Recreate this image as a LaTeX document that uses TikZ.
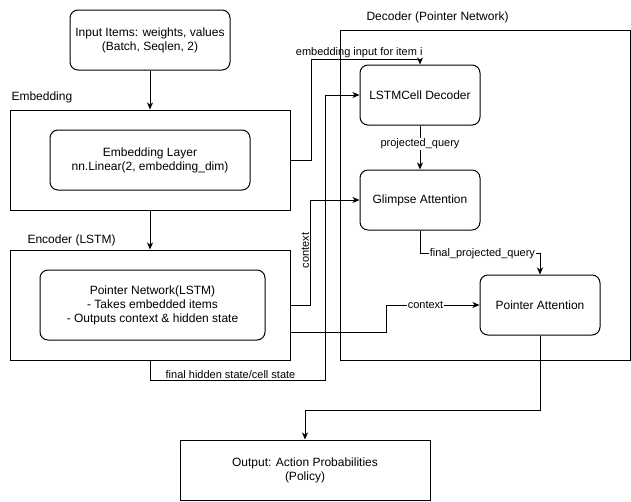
\documentclass[tikz,border=0pt]{standalone}
\usepackage{fontspec}
\setmainfont{Liberation Sans}
\usetikzlibrary{arrows.meta}
\begin{document}
\begin{tikzpicture}[x=1pt,y=-1pt,line width=1pt,
  block/.style={draw,rounded corners=8pt,align=center,inner sep=0pt,font=\fontsize{12}{14}\selectfont},
  groupbox/.style={draw,inner sep=0pt},
  grouplabel/.style={anchor=west,inner sep=0pt,font=\fontsize{12}{14}\selectfont},
  lbl/.style={font=\fontsize{11}{13}\selectfont,inner sep=1pt},
  arr/.style={-{Stealth[length=7pt,width=6pt,inset=2pt]}}]
\useasboundingbox (0,0) rectangle (631,501);
\node[block,minimum width=160pt,minimum height=60pt] (input) at (150,40) {Input Items: weights, values\\(Batch, Seqlen, 2)};
\node[grouplabel] (embedtitle) at (11,97) {Embedding};
\node[groupbox,minimum width=280pt,minimum height=100pt] (embedbox) at (150,160) {};
\node[block,minimum width=200pt,minimum height=60pt] (embedlayer) at (150,160) {Embedding Layer\\nn.Linear(2, embedding\_dim)};
\node[grouplabel] (enctitle) at (27,240) {Encoder (LSTM)};
\node[groupbox,minimum width=280pt,minimum height=110pt] (encbox) at (150,305) {};
\node[block,minimum width=225pt,minimum height=70pt] (ptrnet) at (152.5,305) {Pointer Network(LSTM)\\- Takes embedded items\\- Outputs context \& hidden state};
\node[grouplabel] (dectitle) at (366,17) {Decoder (Pointer Network)};
\node[groupbox,minimum width=290pt,minimum height=330pt] (decbox) at (485,195) {};
\node[block,minimum width=120pt,minimum height=60pt] (lstm) at (420,95) {LSTMCell Decoder};
\node[block,minimum width=120pt,minimum height=60pt] (glimpse) at (420,200) {Glimpse Attention};
\node[block,minimum width=120pt,minimum height=60pt] (pattn) at (540,305) {Pointer Attention};
\node[groupbox,minimum width=250pt,minimum height=60pt,align=center,font=\fontsize{12}{14}\selectfont] (output) at (305,470) {Output: Action Probabilities\\(Policy)};
\draw[arr] (input) -- (embedbox);
\draw[arr] (embedbox) -- (encbox);
\draw[arr] (embedbox.east) -- ++(21,0) |- node[lbl,above,pos=0.72] {embedding input for item i} ([yshift=5pt]lstm.north) -- (lstm.north);
\draw[arr] (encbox.south) -- ++(0,20) -- node[lbl,above,pos=0.46] {final hidden state/cell state} ++(175,0) |- (lstm.west);
\draw[arr] (encbox.east) -- ++(20,0) |- node[lbl,rotate=90,anchor=south,pos=0.26] {context} (glimpse.west);
\draw[arr] ([yshift=-27pt]encbox.east) -- ++(96,0) |- node[lbl,fill=white,pos=0.71] {context} (pattn.west);
\draw[arr] (lstm) -- node[lbl,fill=white,pos=0.42] {projected\_query} (glimpse);
\draw[arr] (glimpse.south) -- ++(0,23) -| node[lbl,fill=white,pos=0.26] {final\_projected\_query} (pattn.north);
\draw[arr] (pattn.south) -- ++(0,75) -| (output.north);
\end{tikzpicture}
\end{document}
